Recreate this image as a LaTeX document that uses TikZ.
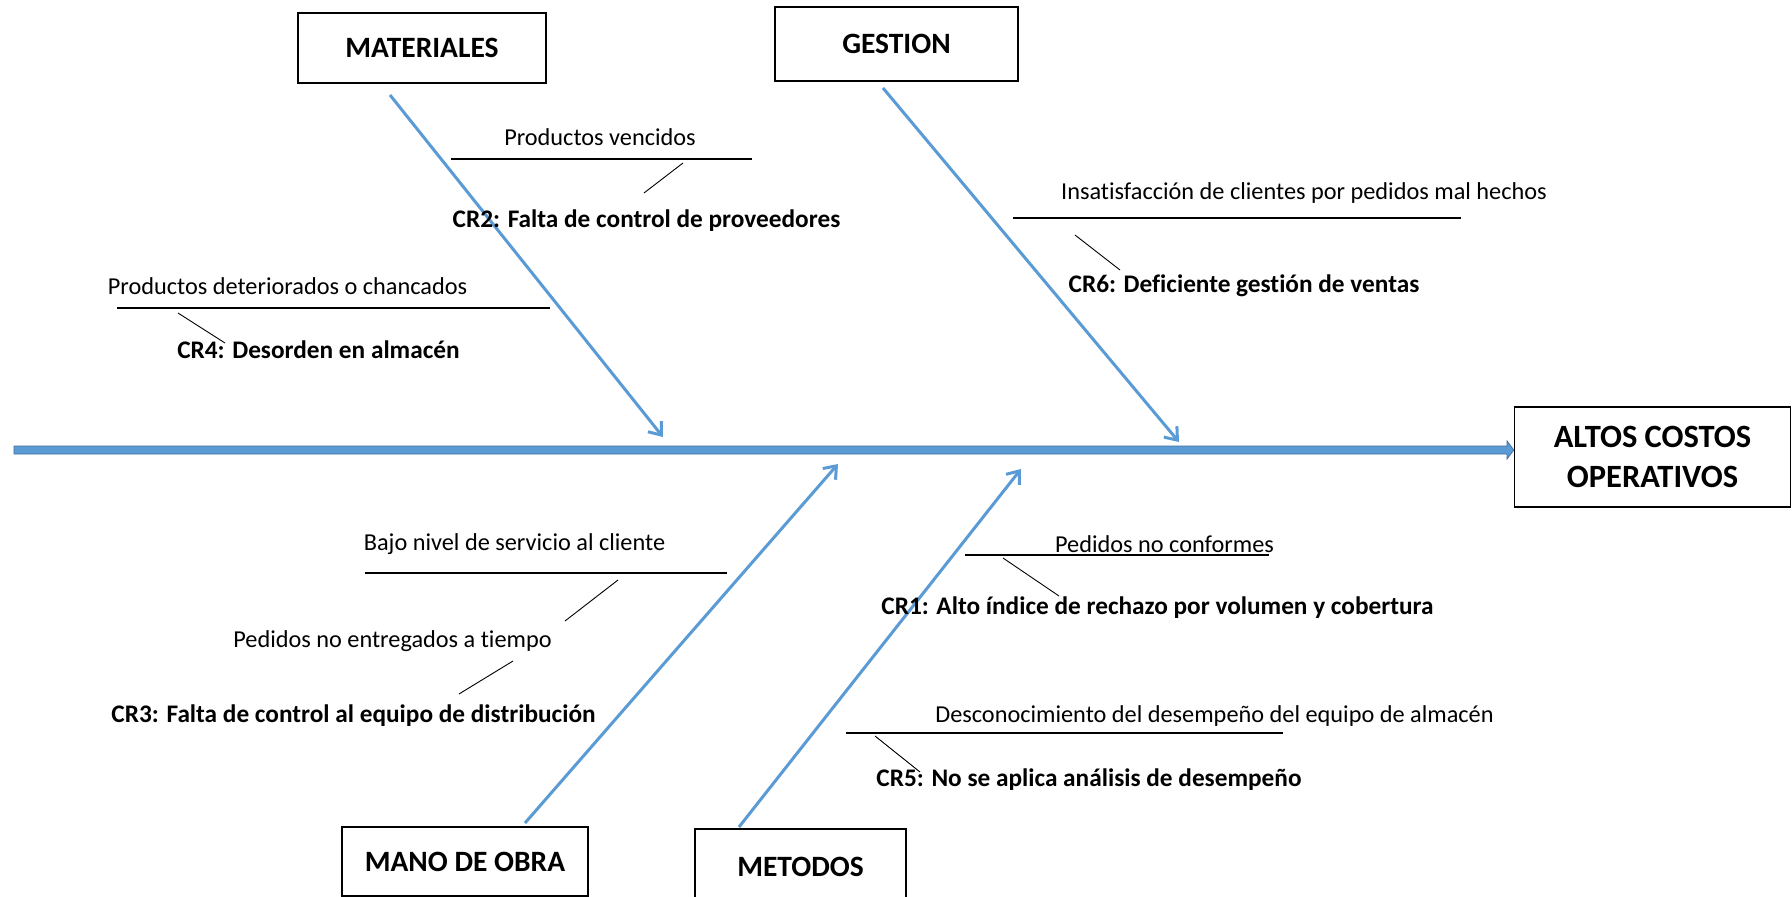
\documentclass[tikz,border=0pt]{standalone}
\usepackage{fontspec}
\setmainfont[Ligatures=NoCommon]{Carlito}
\usetikzlibrary{arrows.meta}
\definecolor{boneblue}{HTML}{5B9BD5}
\definecolor{spineedge}{HTML}{41719C}
\begin{document}
\begin{tikzpicture}[x=1pt,y=-1pt,
  catbox/.style={draw=black,line width=1.5pt,inner sep=0pt,font=\fontsize{29.5}{35}\selectfont\bfseries},
  cause/.style={inner sep=0pt,font=\fontsize{24.3}{29}\selectfont},
  rootc/.style={inner sep=0pt,font=\fontsize{25.3}{29}\selectfont\bfseries},
  bone/.style={draw=boneblue,line width=3pt,-{Straight Barb[length=11pt,width=17pt]}},
  ruleline/.style={draw=black,line width=1.3pt},
  tickline/.style={draw=black,line width=0.9pt}]
\useasboundingbox (0,0) rectangle (1792,897);
\fill[white] (0,0) rectangle (1792,897);

% category boxes
\node[catbox,minimum width=248pt,minimum height=70pt] (mat) at (422,48) {MATERIALES};
\node[catbox,minimum width=243pt,minimum height=74pt] (ges) at (896.5,44) {GESTION};
\node[catbox,minimum width=246pt,minimum height=69pt] (mano) at (465,861.5) {MANO DE OBRA};
\node[catbox,minimum width=211pt,minimum height=76pt] (met) at (800.5,867) {METODOS};
\node[catbox,minimum width=276pt,minimum height=100pt,align=center,font=\fontsize{32.5}{40}\selectfont\bfseries] (eff) at (1652.5,457) {ALTOS COSTOS\\OPERATIVOS};

% spine
\coordinate (spS) at (14,450);
\filldraw[fill=boneblue,draw=spineedge,line width=0.8pt]
  (14,446) -- (1507,446) -- (1507,441) -- (eff.west |- spS) -- (1507,459) -- (1507,454) -- (14,454) -- cycle;

% bones
\coordinate (matS) at (390,95);  \coordinate (matE) at (663,437);
\coordinate (gesS) at (883,88);  \coordinate (gesE) at (1179,442);
\coordinate (manS) at (525,823); \coordinate (manE) at (838,464);
\coordinate (metS) at (739,827); \coordinate (metE) at (1021,469);
\draw[bone] (matS) -- (matE);
\draw[bone] (gesS) -- (gesE);
\draw[bone] (manS) -- (manE);
\draw[bone] (metS) -- (metE);

% MATERIALES causes
\node[cause] (c1) at (600,137) {Productos vencidos};
\draw[ruleline] (451,159) -- (752,159);
\draw[tickline] (683,163) -- (644,193);
\node[rootc] (r2) at (646.5,221) {CR2: Falta de control de proveedores};

\node[cause] (c2) at (287.5,286) {Productos deteriorados o chancados};
\draw[ruleline] (117,308) -- (550,308);
\draw[tickline] (178,313) -- (225,343);
\node[rootc] (r4) at (318.5,350) {CR4: Desorden en almacén};

% GESTION causes
\node[cause] (c3) at (1304,193) {Insatisfacción de clientes por pedidos mal hechos};
\draw[ruleline] (1013,218) -- (1461,218);
\draw[tickline] (1075,235) -- (1120,270);
\node[rootc] (r6) at (1244,286) {CR6: Deficiente gestión de ventas};

% MANO DE OBRA causes
\node[cause] (c4) at (514.5,544) {Bajo nivel de servicio al cliente};
\draw[ruleline] (365,573) -- (727,573);
\draw[tickline] (618,580) -- (565,621);
\node[cause] (c5) at (392.5,641) {Pedidos no entregados a tiempo};
\draw[tickline] (513,661) -- (459,694);
\node[rootc] (r3) at (353.5,716) {CR3: Falta de control al equipo de distribución};

% METODOS causes
\node[cause] (c6) at (1164.5,544) {Pedidos no conformes};
\draw[ruleline] (965,555) -- (1269,555);
\draw[tickline] (1003,558) -- (1059,596);
\node[rootc] (r1) at (1157.5,608) {CR1: Alto índice de rechazo por volumen y cobertura};

\node[cause] (c7) at (1214.5,716) {Desconocimiento del desempeño del equipo de almacén};
\draw[ruleline] (846,733) -- (1283,733);
\draw[tickline] (875,736) -- (920,772);
\node[rootc] (r5) at (1089,780) {CR5: No se aplica análisis de desempeño};
\end{tikzpicture}
\end{document}
